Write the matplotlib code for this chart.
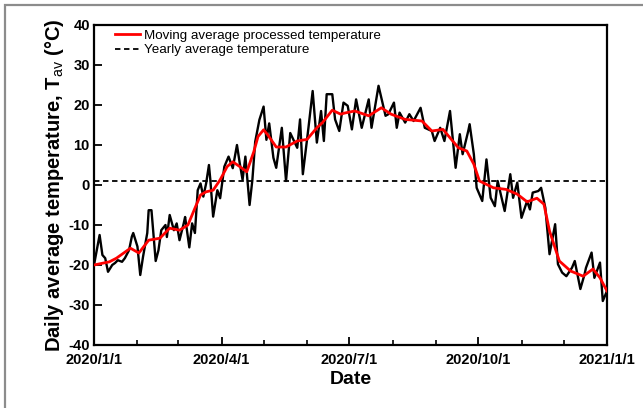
import numpy as np
import matplotlib
matplotlib.use("Agg")
import matplotlib.pyplot as plt
import matplotlib.dates as mdates
from matplotlib.patches import Rectangle

plt.rcParams["font.family"] = ["Liberation Sans", "DejaVu Sans"]
plt.rcParams["mathtext.fontset"] = "custom"
plt.rcParams["mathtext.rm"] = "Liberation Sans"
plt.rcParams["mathtext.bf"] = "Liberation Sans:bold"
plt.rcParams["axes.unicode_minus"] = False

# Daily average temperature (day offset from 2020-01-01, degC)
daily_day = [0, 4, 6, 8, 10, 13, 15, 17, 20, 22, 25, 27, 28, 31, 33, 35, 38, 39, 41,
             44, 46, 48, 51, 52, 54, 57, 59, 61, 64, 65, 68, 70, 72, 74, 76, 78, 80,
             82, 83, 85, 88, 90, 93, 96, 99, 102, 104, 106, 108, 111, 113, 115, 118,
             121, 123, 125, 128, 130, 134, 137, 140, 145, 147, 149, 153, 156, 159, 162,
             164, 166, 170, 172, 175, 178, 181, 184, 187, 191, 196, 198, 203, 208, 210,
             214, 216, 218, 222, 225, 228, 233, 236, 241, 243, 247, 250, 254, 258, 261,
             263, 267, 268, 271, 273, 277, 280, 283, 286, 288, 293, 297, 299, 302, 305,
             309, 311, 313, 317, 319, 322, 325, 329, 331, 334, 337, 341, 343, 347, 350,
             351, 355, 357, 361, 363, 366]
daily_temp = [-20.0, -12.5, -17.5, -18.3, -21.7, -20.0, -19.5, -18.8, -19.2, -18.3, -16.3, -12.9, -12.0, -15.4, -22.5, -17.9, -12.0, -6.3, -6.3,
              -19.0, -16.3, -11.3, -10.0, -13.0, -7.5, -11.3, -9.6, -13.8, -9.6, -8.0, -15.6, -9.6, -12.0, -1.3, 0.4, -2.9, 0.4,
              5.0, 1.3, -7.9, -1.3, -3.3, 4.6, 7.1, 4.2, 10.0, 5.4, 1.3, 7.1, -5.0, 1.3, 10.8, 16.3,
              19.6, 11.3, 15.4, 6.8, 4.3, 14.3, 1.0, 13.0, 9.3, 16.4, 2.7, 14.3, 23.5, 10.6, 18.5,
              11.0, 22.7, 22.7, 16.4, 13.5, 20.6, 19.8, 13.9, 21.4, 14.3, 21.4, 14.3, 24.8, 17.3, 17.7,
              20.6, 14.3, 18.1, 15.6, 17.7, 16.0, 19.3, 14.3, 13.5, 11.0, 14.3, 11.0, 18.5, 4.3, 12.7,
              7.7, 13.5, 15.2, 7.7, -0.7, -4.0, 6.4, -3.2, -5.3, 1.0, -6.5, 2.7, -3.2, 0.6, -8.2,
              -4.0, -6.1, -1.9, -1.5, -0.7, -5.7, -17.3, -9.8, -19.8, -21.9, -22.8, -20.7, -19.0, -26.0, -22.3,
              -20.7, -16.9, -23.2, -19.4, -29.0, -26.5]

# Moving average processed temperature (day offset, degC)
smooth_day = [0, 11, 16, 26, 32, 39, 47, 54, 61, 67, 72, 76, 80, 85, 90, 95, 99, 104, 109,
              114, 117, 121, 124, 130, 137, 145, 152, 159, 163, 170, 176, 179, 186, 196,
              205, 212, 222, 234, 241, 249, 254, 260, 266, 271, 275, 285, 294, 302, 309,
              316, 321, 325, 332, 340, 349, 356, 361, 366]
smooth_temp = [-20.0, -19.2, -18.3, -15.8, -17.0, -13.8, -13.3, -10.8, -11.3, -10.0, -5.8, -2.5, -1.7, -1.3, 1.3, 4.6, 5.8, 4.6, 3.3,
               8.3, 12.1, 13.8, 12.5, 9.5, 9.5, 11.0, 11.4, 14.3, 15.6, 18.7, 17.7, 18.0, 18.5, 17.3,
               19.3, 17.7, 16.4, 16.0, 13.5, 13.9, 11.8, 9.3, 8.5, 5.2, 1.0, -0.7, -1.1, -2.3, -4.2,
               -3.3, -4.8, -11.5, -19.0, -21.5, -22.8, -21.0, -23.2, -26.5]

yearly_avg = 1.0

start = np.datetime64("2020-01-01")
daily_dates = start + np.array(daily_day).astype("timedelta64[D]")
smooth_dates = start + np.array(smooth_day).astype("timedelta64[D]")

fig = plt.figure(figsize=(6.43, 4.08), dpi=100)
ax = fig.add_axes([94 / 643, 1 - 345 / 408, 513 / 643, 320 / 408])

# outer grey frame
fig.patches.append(Rectangle((5 / 643, -0.2), 1.2, 1 - 5 / 408 + 0.2,
                             transform=fig.transFigure, fill=False,
                             edgecolor="#8c8c8c", linewidth=1.6))

ax.plot(daily_dates, daily_temp, color="black", linewidth=1.7, zorder=2)
ax.plot(smooth_dates, smooth_temp, color="#ff0000", linewidth=2.0, zorder=3,
        label="Moving average processed temperature")
ax.axhline(yearly_avg, color="black", linestyle=(0, (3, 2)), linewidth=1.3, zorder=1,
           label="Yearly average temperature")

ax.set_xlim(np.datetime64("2020-01-01"), np.datetime64("2021-01-01"))
ax.set_ylim(-40, 40)
ax.set_yticks(np.arange(-40, 41, 10))
ax.xaxis.set_major_locator(mdates.MonthLocator(bymonth=[1, 4, 7, 10]))
ax.xaxis.set_minor_locator(mdates.MonthLocator())
ax.xaxis.set_major_formatter(mdates.DateFormatter("%Y/%-m/%-d"))

for s in ax.spines.values():
    s.set_linewidth(1.6)
ax.tick_params(axis="both", which="major", direction="in", length=6, width=1.3,
               labelsize=10.5, pad=3)
ax.tick_params(axis="x", which="major", pad=5.5)
ax.tick_params(axis="x", which="minor", direction="in", length=3.5, width=1.2)
for lab in ax.get_xticklabels() + ax.get_yticklabels():
    lab.set_fontweight("bold")

ax.set_xlabel("Date", fontsize=14, fontweight="bold", labelpad=3)
ax.set_ylabel(r"Daily average temperature, T$_{\mathrm{av}}$ (°C)", fontsize=14.5,
              fontweight="bold", labelpad=2)

leg = ax.legend(loc="upper left", bbox_to_anchor=(0.041, 0.985), frameon=False,
                fontsize=9.6, handlelength=1.9, handletextpad=0.25, labelspacing=0.15,
                borderpad=0, borderaxespad=0)

fig.savefig("out.png", dpi=100)
